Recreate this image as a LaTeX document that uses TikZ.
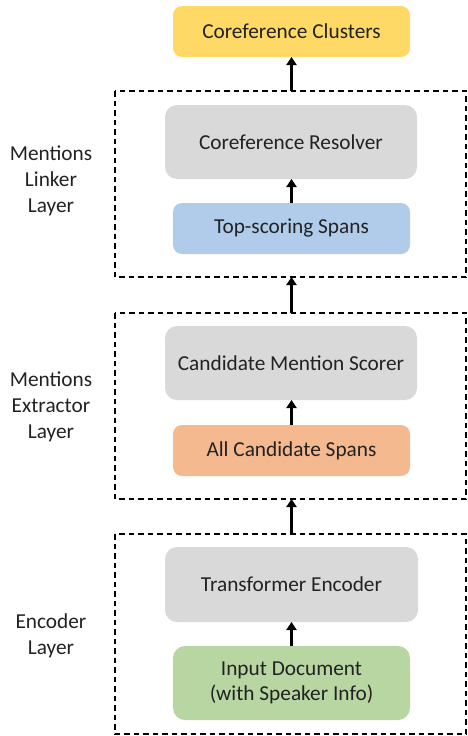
\documentclass[tikz,border=0pt]{standalone}
\usepackage{fontspec}
\setmainfont{Carlito}
\usetikzlibrary{arrows.meta}
\definecolor{cyellow}{HTML}{FFD966}
\definecolor{cgray}{HTML}{D9D9D9}
\definecolor{cblue}{HTML}{B0CCEA}
\definecolor{corange}{HTML}{F4B98F}
\definecolor{cgreen}{HTML}{B8D6A2}
\definecolor{ctext}{HTML}{222222}
\tikzset{
  box/.style={rounded corners=10pt, draw=none, text=ctext, align=center, font=\fontsize{21.3}{24.5}\selectfont},
  layer/.style={draw=black, line width=1.3pt, dash pattern=on 5.5pt off 4pt},
  lbl/.style={text=ctext, align=center, font=\fontsize{21.3}{25.8}\selectfont},
  arr/.style={line width=2.8pt, -{Triangle[length=8pt,width=10pt]}},
}
\begin{document}
\begin{tikzpicture}[x=1pt,y=-1pt]
\useasboundingbox (0,0) rectangle (467,736);
% layers
\draw[layer] (115,91) rectangle (466,277);
\draw[layer] (115,313) rectangle (466,499);
\draw[layer] (115,534) rectangle (466,734);
\coordinate (l1t) at (291.5,91);
\coordinate (l1b) at (291.5,277);
\coordinate (l2t) at (291.5,313);
\coordinate (l2b) at (291.5,499);
\coordinate (l3t) at (291.5,534);
% boxes
\fill[cyellow, rounded corners=9pt] (173,6) rectangle (410,57);
\node[box] (cc) at (291.5,31.5) {Coreference Clusters};
\fill[cgray, rounded corners=12pt] (165,105) rectangle (417,179);
\node[box] (cr) at (291,142) {Coreference Resolver};
\fill[cblue, rounded corners=9pt] (173,203) rectangle (410,254);
\node[box] (ts) at (291.5,228.5) {Top-scoring Spans};
\fill[cgray, rounded corners=12pt] (165,326) rectangle (417,400);
\node[box] (cm) at (291,363) {Candidate Mention Scorer};
\fill[corange, rounded corners=9pt] (173,425) rectangle (410,476);
\node[box] (ac) at (291.5,450.5) {All Candidate Spans};
\fill[cgray, rounded corners=12pt] (165,547) rectangle (418,622);
\node[box] (te) at (291.5,584.5) {Transformer Encoder};
\fill[cgreen, rounded corners=12pt] (173,646) rectangle (410,720);
\node[box] (id) at (291.5,683) {Input Document\\(with Speaker Info)};
% coordinates of box edges
\coordinate (ccb) at (291.5,57);
\coordinate (crt) at (291.5,179);
\coordinate (tst) at (291.5,203);
\coordinate (cmb) at (291.5,400);
\coordinate (act) at (291.5,425);
\coordinate (teb) at (291.5,622);
\coordinate (idt) at (291.5,646);
% arrows
\draw[arr] (l1t) -- (ccb);
\draw[arr] (tst) -- (crt);
\draw[arr] (l2t) -- (l1b);
\draw[arr] (act) -- (cmb);
\draw[arr] (l3t) -- (l2b);
\draw[arr] (idt) -- (teb);
% labels
\node[lbl] (ll1) at (51,181) {Mentions\\Linker\\Layer};
\node[lbl] (ll2) at (51,407) {Mentions\\Extractor\\Layer};
\node[lbl] (ll3) at (51,636) {Encoder\\Layer};
\end{tikzpicture}
\end{document}
